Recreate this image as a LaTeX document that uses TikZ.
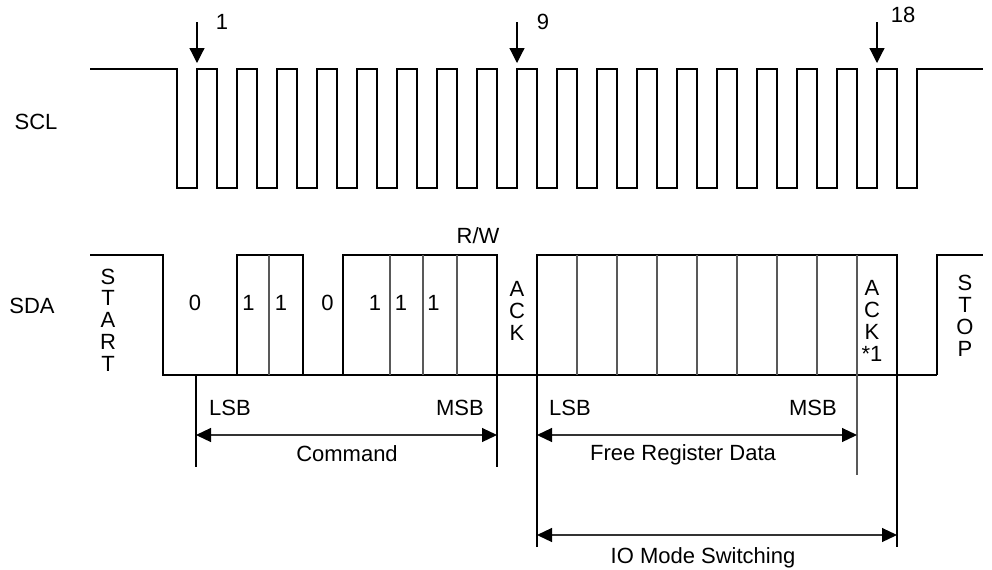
\documentclass[tikz,border=0pt]{standalone}
\usepackage{fontspec}
\setmainfont{Liberation Sans}
\usetikzlibrary{arrows.meta}
\begin{document}
\begin{tikzpicture}[x=0.5pt,y=-0.5pt,
  wave/.style={line width=0.6pt, black},
  divider/.style={line width=0.6pt, black!65},
  pulsearrow/.style={line width=0.6pt, black, -{Triangle[width=7.5pt,length=7.5pt]}},
  dimline/.style={line width=0.6pt, black!80, {Triangle[width=7pt,length=7.5pt,color=black,fill=black]}-{Triangle[width=7pt,length=7.5pt,color=black,fill=black]}},
  lbl/.style={inner sep=0pt, font=\fontsize{11pt}{12pt}\selectfont},
  vlbl/.style={inner sep=0pt, align=center, font=\fontsize{11pt}{10.9pt}\selectfont}]
\useasboundingbox (0,0) rectangle (992,569);

% ---------- SCL ----------
\node[lbl] (scl) at (36,122) {SCL};
\draw[wave] (90,69) -- (177,69) -- (177,188)
  \foreach \k in {0,...,17}{ -- ({197+40*\k},188) -- ({197+40*\k},69) -- ({217+40*\k},69) -- ({217+40*\k},188)}
  -- (917,188) -- (917,69) -- (983,69);

\coordinate (a1s) at (197,22); \coordinate (a1e) at (197,63);
\coordinate (a9s) at (517,22); \coordinate (a9e) at (517,63);
\coordinate (a18s) at (877,22); \coordinate (a18e) at (877,63);
\draw[pulsearrow] (a1s) -- (a1e);
\draw[pulsearrow] (a9s) -- (a9e);
\draw[pulsearrow] (a18s) -- (a18e);
\node[lbl] (n1) at (222,22) {1};
\node[lbl] (n9) at (543,22) {9};
\node[lbl] (n18) at (903,15) {18};

% ---------- SDA ----------
\node[lbl] (sda) at (32,306) {SDA};
\draw[wave] (90,255) -- (163,255) -- (163,375) -- (937,375);
\draw[wave] (237,375) -- (237,255) -- (303,255) -- (303,375);
\draw[wave] (343,375) -- (343,255) -- (497,255) -- (497,467);
\draw[wave] (537,547) -- (537,255) -- (897,255) -- (897,547);
\draw[wave] (937,375) -- (937,255) -- (983,255);
\foreach \xx in {269,390,423,457,577,617,657,697,737,777,817}
  \draw[divider] (\xx,255) -- (\xx,375);
\draw[divider] (857,255) -- (857,475);
\draw[wave] (196,375) -- (196,467);

\node[vlbl] (start) at (108,320) {S\\T\\A\\R\\T};
\node[vlbl] (stop) at (965,316) {S\\T\\O\\P};
\node[vlbl] (ack1) at (517,311) {A\\C\\K};
\node[vlbl] (ack2) at (872,321) {A\\C\\K\\*1};
\node[lbl] (rw) at (478,236) {R/W};

\node[lbl] (b0) at (195,302.5) {0};
\node[lbl] (b1) at (248.5,302.5) {1};
\node[lbl] (b2) at (281,302.5) {1};
\node[lbl] (b3) at (327.5,302.5) {0};
\node[lbl] (b4) at (375,302.5) {1};
\node[lbl] (b5) at (401,302.5) {1};
\node[lbl] (b6) at (433.5,302.5) {1};

% ---------- dimensions ----------
\coordinate (cmdL) at (196,435); \coordinate (cmdR) at (497,435);
\coordinate (frdL) at (537,435); \coordinate (frdR) at (857,435);
\coordinate (ioL) at (537,535);  \coordinate (ioR) at (897,535);
\draw[dimline] (cmdL) -- (cmdR);
\draw[dimline] (frdL) -- (frdR);
\draw[dimline] (ioL) -- (ioR);

\node[lbl] (lsb1) at (230,407.5) {LSB};
\node[lbl] (msb1) at (460,407.5) {MSB};
\node[lbl] (cmd) at (347,454) {Command};
\node[lbl] (lsb2) at (570,408) {LSB};
\node[lbl] (msb2) at (813,408) {MSB};
\node[lbl] (frd) at (683,455) {Free Register Data};
\node[lbl] (io) at (703,558) {IO Mode Switching};
\end{tikzpicture}
\end{document}
